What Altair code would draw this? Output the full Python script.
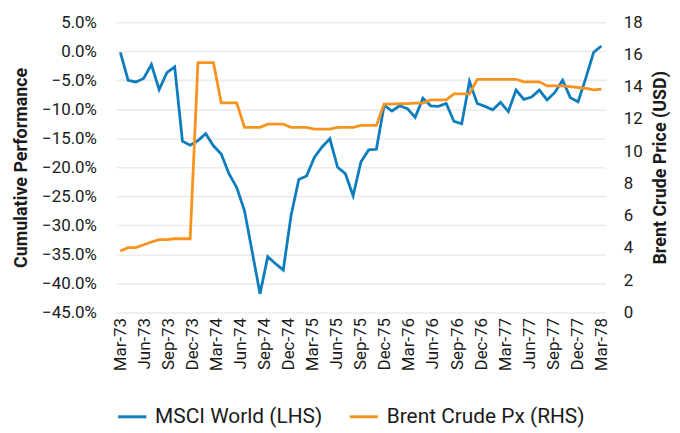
import altair as alt
import pandas as pd

# MSCI World cumulative performance (%), one value per observation
msci = [-0.2, -5.0, -5.3, -4.7, -2.3, -6.6, -3.7, -2.7, -15.5, -16.2,
        -15.4, -14.2, -16.3, -17.7, -21.1, -23.5, -27.5, -34.6, -41.8, -35.4,
        -36.6, -37.7, -28.3, -22.1, -21.5, -18.3, -16.5, -15.1, -20.0, -21.1,
        -24.9, -19.1, -17.0, -16.9, -9.3, -10.3, -9.4, -9.9, -11.4, -8.1,
        -9.4, -9.5, -9.0, -12.1, -12.5, -5.2, -9.0, -9.5, -10.1, -8.8,
        -10.4, -6.7, -8.3, -7.9, -6.7, -8.4, -7.1, -5.0, -8.0, -8.7,
        -4.6, -0.2, 0.9]

# Brent crude price (USD)
brent = [3.81, 4.02, 4.02, 4.20, 4.37, 4.51, 4.51, 4.57, 4.57, 4.57,
         15.49, 15.49, 15.49, 13.00, 13.00, 13.00, 11.48, 11.48, 11.48, 11.68,
         11.68, 11.68, 11.48, 11.48, 11.48, 11.37, 11.37, 11.37, 11.48, 11.48,
         11.48, 11.60, 11.60, 11.60, 12.92, 12.92, 12.95, 12.95, 12.98, 12.98,
         13.18, 13.18, 13.18, 13.55, 13.55, 13.55, 14.46, 14.46, 14.46, 14.46,
         14.46, 14.46, 14.30, 14.30, 14.30, 14.05, 14.05, 14.05, 14.00, 13.95,
         13.90, 13.80, 13.85]

tick_labels = ["Mar-73", "Jun-73", "Sep-73", "Dec-73", "Mar-74", "Jun-74", "Sep-74",
               "Dec-74", "Mar-75", "Jun-75", "Sep-75", "Dec-75", "Mar-76", "Jun-76",
               "Sep-76", "Dec-76", "Mar-77", "Jun-77", "Sep-77", "Dec-77", "Mar-78"]

series_names = ["MSCI World (LHS)", "Brent Crude Px (RHS)"]
series_colors = ["#0E7DBE", "#F7931E"]

n = len(msci)
span = 3 * (len(tick_labels) - 1)  # months covered by the axis labels
df = pd.DataFrame({
    "t": [i * span / (n - 1) for i in range(n)],
    "msci": msci,
    "brent": brent,
})

FONT = "Roboto, sans-serif"

label_js = "[" + ",".join("'%s'" % s for s in tick_labels) + "]"

x_enc = alt.X(
    "t:Q",
    scale=alt.Scale(domain=[-0.5, span + 0.5], nice=False, zero=False),
    axis=alt.Axis(
        values=list(range(0, span + 1, 3)),
        labelExpr=label_js + "[round(datum.value/3)]",
        labelAngle=270,
        labelAlign="right",
        labelBaseline="middle",
        labelFontSize=17,
        labelPadding=5,
        title=None,
        grid=False,
        ticks=False,
        domain=False,
        labelFlush=False,
        labelOverlap=False,
    ),
)

color_scale = alt.Scale(domain=series_names, range=series_colors)

blue = alt.Chart(df).mark_line(strokeWidth=2.8).encode(
    x=x_enc,
    y=alt.Y(
        "msci:Q",
        scale=alt.Scale(domain=[-45, 5], nice=False, zero=False),
        axis=alt.Axis(
            values=list(range(-45, 6, 5)),
            labelExpr="format(datum.value, '.1f') + '%'",
            title="Cumulative Performance",
            titleFontSize=18,
            titleFontWeight="bold",
            titlePadding=11,
            labelFontSize=17,
            labelPadding=20,
            grid=True,
            gridColor="#ececec",
            gridWidth=1.6,
            ticks=False,
            domain=False,
            orient="left",
        ),
    ),
    color=alt.Color(
        "s:N",
        scale=color_scale,
        legend=alt.Legend(
            orient="bottom",
            direction="horizontal",
            title=None,
            symbolType="stroke",
            symbolStrokeWidth=3,
            symbolSize=800,
            labelFontSize=21,
            labelLimit=400,
            columnPadding=20,
            labelOffset=7,
            offset=30,
        ),
    ),
).transform_calculate(s="'%s'" % series_names[0])

orange = alt.Chart(df).mark_line(strokeWidth=2.8).encode(
    x=x_enc,
    y=alt.Y(
        "brent:Q",
        scale=alt.Scale(domain=[0, 18], nice=False, zero=False),
        axis=alt.Axis(
            values=list(range(0, 19, 2)),
            title="Brent Crude Price (USD)",
            titleFontSize=18,
            titleFontWeight="bold",
            titleAngle=270,
            titleBaseline="top",
            titlePadding=9,
            labelFontSize=17,
            labelPadding=18,
            grid=False,
            ticks=False,
            domain=False,
            orient="right",
        ),
    ),
    color=alt.Color("s:N", scale=color_scale),
).transform_calculate(s="'%s'" % series_names[1])

chart = alt.layer(blue, orange).resolve_scale(y="independent").properties(
    width=492,
    height=292,
    padding={"left": 4, "right": 2, "top": 4, "bottom": 2},
).configure(
    font=FONT,
).configure_axis(
    labelColor="#1a1a1a",
    titleColor="#1a1a1a",
    labelFont=FONT,
    titleFont=FONT,
).configure_legend(
    labelFont=FONT,
    labelColor="#1a1a1a",
).configure_view(
    stroke=None,
)

chart.save("out.html", embed_options={"renderer": "svg", "actions": False})
